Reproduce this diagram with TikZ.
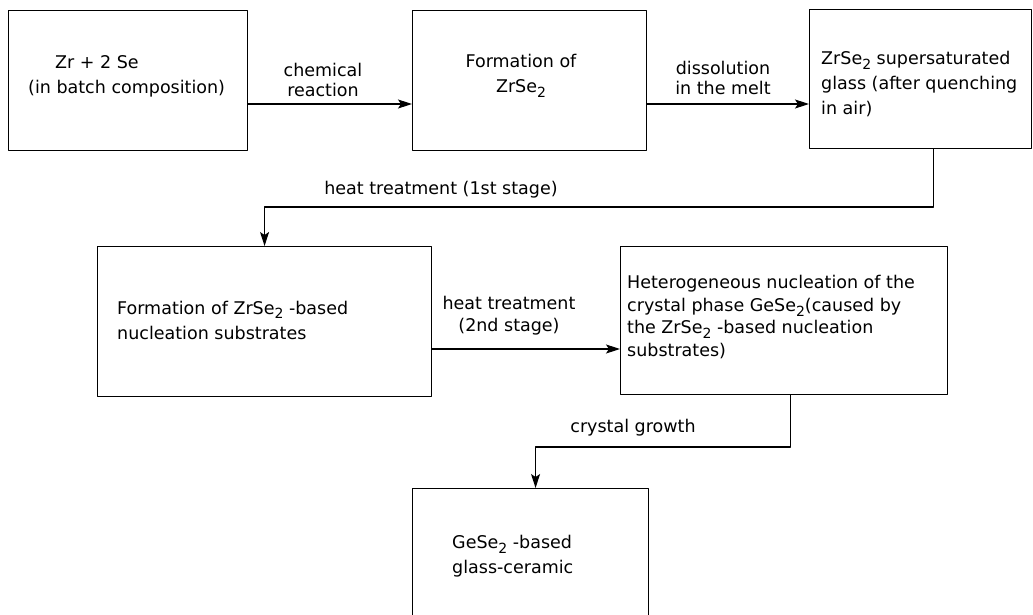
\documentclass[tikz,border=0pt]{standalone}
\usepackage{fontspec}
\setmainfont{DejaVu Sans}
\usetikzlibrary{arrows.meta,calc}
\newcommand{\sub}[1]{\raisebox{-0.5ex}{\fontsize{14}{14}\selectfont #1}}

\begin{document}
\begin{tikzpicture}[
  x=1pt, y=-1pt,
  >={Stealth[length=14pt,width=9pt,inset=3pt]},
  line cap=round,
  line join=round,
  every node/.style={font=\fontsize{17.5}{25}\selectfont},
  stagebox/.style={draw, line width=1.1pt, inner sep=0pt, anchor=north west},
  flow/.style={->, line width=1.1pt},
  note/.style={align=center, inner sep=0pt},
  lefttext/.style={align=left, inner sep=0pt, anchor=west}
]
  \useasboundingbox (0,0) rectangle (1033,615);
  \clip (0,0) rectangle (1033,615);

  % Process stages
  \node[stagebox, minimum width=239pt, minimum height=140pt] (batch)    at (8,10)   {};
  \node[stagebox, minimum width=234pt, minimum height=140pt] (zrse)     at (412,10) {};
  \node[stagebox, minimum width=222pt, minimum height=139pt] (glass)    at (809,9)  {};
  \node[stagebox, minimum width=334pt, minimum height=150pt] (substr)   at (97,246) {};
  \node[stagebox, minimum width=327pt, minimum height=148pt] (nucl)     at (620,246) {};
  \node[stagebox, minimum width=236pt, minimum height=170pt] (ceramic)  at (412,488) {};

  % Stage texts
  \node[lefttext] (batchtxt) at (28,76)
    {\hspace*{27pt}Zr + 2 Se\\(in batch composition)};
  \node[note] (zrsetxt) at (521,76) {Formation of\\ZrSe\sub{2}};
  \node[lefttext] (glasstxt) at (821,84)
    {ZrSe\sub{2} supersaturated\\glass (after quenching\\in air)};
  \node[lefttext] (substrtxt) at (117,320)
    {Formation of ZrSe\sub{2} -based\\nucleation substrates};
  \node[lefttext, font=\fontsize{17.5}{22.5}\selectfont] (nucltxt) at (627,317)
    {Heterogeneous nucleation of the\\crystal phase GeSe\sub{2}(caused by\\the ZrSe\sub{2} -based nucleation\\substrates)};
  \node[lefttext] (ceramictxt) at (452,556)
    {GeSe\sub{2} -based\\glass-ceramic};

  % Connectors
  \coordinate (rowone) at (0,104);
  \coordinate (rowtwo) at (0,349);
  \draw[flow] (batch.east |- rowone) -- (zrse.west |- rowone);
  \draw[flow] (zrse.east |- rowone) -- (glass.west |- rowone);
  \draw[flow] ([xshift=13pt]glass.south) |- ([yshift=39pt]substr.north) -- (substr.north);
  \draw[flow] (substr.east |- rowtwo) -- (nucl.west |- rowtwo);
  \draw[flow] ([xshift=6pt]nucl.south) |- ([xshift=5pt,yshift=41pt]ceramic.north) -- ([xshift=5pt]ceramic.north);

  % Step labels
  \node[note, font=\fontsize{17.5}{20}\selectfont] (react)  at (323,80)  {chemical\\reaction};
  \node[note, font=\fontsize{17.5}{20}\selectfont] (dissol) at (723,78)  {dissolution\\in the melt};
  \node[note] (heatone) at (441,190) {heat treatment (1st stage)};
  \node[note, font=\fontsize{17.5}{22}\selectfont] (heattwo) at (509,316) {heat treatment\\(2nd stage)};
  \node[note] (growth) at (633,428) {crystal growth};
\end{tikzpicture}
\end{document}
